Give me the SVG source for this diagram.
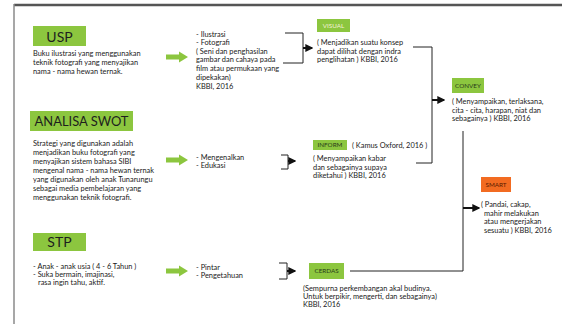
<svg xmlns="http://www.w3.org/2000/svg" width="562" height="324" viewBox="0 0 562 324">
<defs>
<style>
.bg{fill:#ffffff}
.frame-top{stroke:#555;stroke-width:2.5}
.frame-left{stroke:#8a8a8a;stroke-width:1.5}
.gbox{fill:#8cc63f}
.obox{fill:#f26b21}
.head{font-family:Lato,"Liberation Sans",sans-serif;font-size:14px;fill:#1e1e1e;text-anchor:middle}
.tag{font-family:Lato,"Liberation Sans",sans-serif;font-size:6.3px;fill:#2a3a1a;text-anchor:middle}
.txt{font-family:Lato,"Liberation Sans",sans-serif;font-size:7.4px;fill:#1a1a1a}
.ln{fill:none;stroke:#222;stroke-width:1}
.arr{fill:none;stroke:#111;stroke-width:2;marker-end:url(#ah)}
.garr{fill:#8cc63f}
</style>
<marker id="ah" viewBox="0 0 6 6" refX="5" refY="3" markerWidth="4" markerHeight="4" orient="auto"><path d="M0,0 L6,3 L0,6 z" fill="#111"/></marker>
<path id="garrow" d="M0,-2.6 L13,-2.6 L13,-5.5 L22,0 L13,5.5 L13,2.6 L0,2.6 z"/>
</defs>
<rect class="bg" width="562" height="324"/>
<line class="frame-top" x1="14" y1="5" x2="562" y2="5"/>
<line class="frame-left" x1="14" y1="4" x2="14" y2="324"/>

<g id="connectors">
<use href="#garrow" class="garr" x="166" y="57"/>
<use href="#garrow" class="garr" x="166" y="160"/>
<use href="#garrow" class="garr" x="166" y="271"/>
<path class="ln" d="M285,33 H303 V63 H283"/>
<path class="arr" d="M303,48 H312"/>
<path class="ln" d="M281,155 H288 V169 H281"/>
<path class="arr" d="M288,161 H295"/>
<path class="ln" d="M279,263 H287 V279 H279"/>
<path class="arr" d="M287,271 H295"/>
<path class="ln" d="M413,47 H432 V163 H416"/>
<path class="arr" d="M432,100 H444"/>
<path class="ln" d="M350,271 H463 V131"/>
<path class="arr" d="M463,208 H479"/>
</g>

<g id="usp">
<rect class="gbox" x="33" y="26" width="53" height="20"/>
<text class="head" x="59.5" y="41.5">USP</text>
<text class="txt"><tspan x="33" y="55.5">Buku ilustrasi yang menggunakan</tspan><tspan x="33" y="64.5">teknik fotografi yang menyajikan</tspan><tspan x="33" y="73.5">nama - nama hewan ternak.</tspan></text>
</g>
<g id="usp-detail">
<text class="txt"><tspan x="196" y="36.5">- Ilustrasi</tspan><tspan x="196" y="44.5">- Fotografi</tspan><tspan x="196" y="53.5">( Seni dan penghasilan</tspan><tspan x="196" y="62">gambar dan cahaya pada</tspan><tspan x="196" y="71">film atau permukaan yang</tspan><tspan x="196" y="79.5">dipekakan)</tspan><tspan x="196" y="88.5">KBBI, 2016</tspan></text>
</g>
<g id="visual">
<rect class="gbox" x="317" y="19" width="33" height="13"/>
<text class="tag" x="333.5" y="27.8" style="fill:#f4f1d8">VISUAL</text>
<text class="txt"><tspan x="317" y="45">( Menjadikan suatu konsep</tspan><tspan x="317" y="53.5">dapat dilihat dengan indra</tspan><tspan x="317" y="62">penglihatan ) KBBI, 2016</tspan></text>
</g>
<g id="convey">
<rect class="gbox" x="452" y="78" width="32" height="15"/>
<text class="tag" x="468" y="87.8">CONVEY</text>
<text class="txt"><tspan x="452" y="104">( Menyampaikan, terlaksana,</tspan><tspan x="452" y="112.5">cita - cita, harapan, niat dan</tspan><tspan x="452" y="121">sebagainya ) KBBI, 2016</tspan></text>
</g>

<g id="swot">
<rect class="gbox" x="30" y="111" width="103" height="20"/>
<text class="head" x="81.5" y="126" textLength="94" lengthAdjust="spacingAndGlyphs">ANALISA SWOT</text>
<text class="txt"><tspan x="33" y="146">Strategi yang digunakan adalah</tspan><tspan x="33" y="155">menjadikan buku fotografi yang</tspan><tspan x="33" y="164">menyajikan sistem bahasa SIBI</tspan><tspan x="33" y="173">mengenal nama - nama hewan ternak</tspan><tspan x="33" y="182">yang digunakan oleh anak Tunarungu</tspan><tspan x="33" y="191">sebagai media pembelajaran yang</tspan><tspan x="33" y="200">menggunakan teknik fotografi.</tspan></text>
</g>
<g id="swot-detail">
<text class="txt"><tspan x="196" y="159.5">- Mengenalkan</tspan><tspan x="196" y="167.5">- Edukasi</tspan></text>
</g>
<g id="inform">
<rect class="gbox" x="313" y="140" width="34" height="10"/>
<text class="tag" x="330" y="147.2">INFORM</text>
<text class="txt"><tspan x="352" y="147.5">( Kamus Oxford, 2016 )</tspan><tspan x="313" y="161">( Menyampaikan kabar</tspan><tspan x="313" y="169.5">dan sebagainya supaya</tspan><tspan x="313" y="178">diketahui ) KBBI, 2016</tspan></text>
</g>
<g id="smart">
<rect class="obox" x="481" y="177" width="30" height="15"/>
<text class="tag" x="496" y="186.8" style="fill:#5a1a00">SMART</text>
<text class="txt"><tspan x="481" y="207">( Pandai, cakap,</tspan><tspan x="484" y="215.5">mahir melakukan</tspan><tspan x="484" y="224">atau mengerjakan</tspan><tspan x="484" y="232.5">sesuatu ) KBBI, 2016</tspan></text>
</g>

<g id="stp">
<rect class="gbox" x="33" y="233" width="53" height="18"/>
<text class="head" x="59.5" y="247">STP</text>
<text class="txt"><tspan x="33" y="268.5">- Anak - anak usia ( 4 - 6 Tahun )</tspan><tspan x="33" y="276.5">- Suka bermain, imajinasi,</tspan><tspan x="38" y="285">rasa ingin tahu, aktif.</tspan></text>
</g>
<g id="stp-detail">
<text class="txt"><tspan x="196" y="269.5">- Pintar</tspan><tspan x="196" y="277.5">- Pengetahuan</tspan></text>
</g>
<g id="cerdas">
<rect class="gbox" x="309" y="263" width="35" height="16"/>
<text class="tag" x="326.5" y="273.2">CERDAS</text>
<text class="txt"><tspan x="303" y="290.5">(Sempurna perkembangan akal budinya.</tspan><tspan x="303" y="298.5">Untuk berpikir, mengerti, dan sebagainya)</tspan><tspan x="303" y="307">KBBI, 2016</tspan></text>
</g>
</svg>
